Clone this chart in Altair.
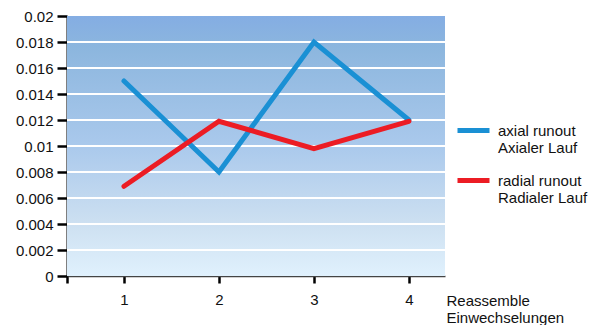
import altair as alt
import pandas as pd

x_vals = [1, 2, 3, 4]
axial = [0.015, 0.008, 0.018, 0.012]
radial = [0.0069, 0.0119, 0.0098, 0.0119]
series_names = ["axial runout|Axialer Lauf", "radial runout|Radialer Lauf"]
series_colors = ["#1a90d4", "#ec1c24"]
grid_vals = [0.002, 0.004, 0.006, 0.008, 0.01, 0.012, 0.014, 0.016, 0.018]
y_ticks = [0, 0.002, 0.004, 0.006, 0.008, 0.01, 0.012, 0.014, 0.016, 0.018, 0.02]
x_ticks = [0.4, 1, 2, 3, 4]

W, H = 378, 260
FONT = "Liberation Sans"
FS = 15

rows = []
for xv, a, r in zip(x_vals, axial, radial):
    rows.append({"x": xv, "value": a, "series": series_names[0]})
    rows.append({"x": xv, "value": r, "series": series_names[1]})
df = pd.DataFrame(rows)

xscale = alt.Scale(domain=[0.4, 4.38], nice=False, zero=False)
yscale = alt.Scale(domain=[0, 0.02], nice=False)

X = alt.X("x:Q", scale=xscale, axis=alt.Axis(
    values=x_ticks, labelExpr="datum.value < 0.5 ? '' : datum.label",
    title=["Reassemble", "Einwechselungen"], titleX=379, titleY=17,
    titleAlign="left", titleBaseline="top", titleAnchor="start",
    titleFontWeight="normal", titleFontSize=FS, titleFont=FONT, titleColor="#111",
    titleLineHeight=17,
    domainColor="#444", domainWidth=1.5, tickColor="#000", tickWidth=2.5, tickSize=7,
    labelPadding=9, labelFontSize=FS, labelFont=FONT, labelColor="#111", grid=False))
Y = alt.Y("value:Q", scale=yscale, axis=alt.Axis(
    values=y_ticks, format=".3~f", title=None,
    domainColor="#000", domainWidth=2, tickColor="#000", tickWidth=2.5, tickSize=10,
    labelPadding=4, labelFontSize=FS, labelFont=FONT, labelColor="#111", grid=False))

bg = alt.Chart(pd.DataFrame({"a": [0]})).mark_rect(
    fill=alt.Gradient(gradient="linear", x1=0, y1=0, x2=0, y2=1, stops=[
        alt.GradientStop(offset=0, color="#84ade3"),
        alt.GradientStop(offset=0.12, color="#8cb6de"),
        alt.GradientStop(offset=0.5, color="#aac9ec"),
        alt.GradientStop(offset=0.8, color="#cde0f1"),
        alt.GradientStop(offset=1, color="#e0f1fd"),
    ])
).encode(x=alt.value(0), x2=alt.value(W), y=alt.value(0), y2=alt.value(H))

grid = alt.Chart(pd.DataFrame({"value": grid_vals})).mark_rule(
    color="white", strokeWidth=2).encode(y=Y)

lines = alt.Chart(df).mark_line(strokeWidth=5, strokeCap="round").encode(
    x=X, y=Y,
    color=alt.Color("series:N", scale=alt.Scale(domain=series_names, range=series_colors),
                    legend=alt.Legend(
                        title=None, orient="none", legendX=388, legendY=96,
                        symbolType="stroke", symbolSize=1024, symbolStrokeWidth=5,
                        labelExpr="split(datum.label, '|')",
                        labelFontSize=FS, labelFont=FONT, labelColor="#111",
                        labelBaseline="middle", labelOffset=6, rowPadding=6,
                        labelLimit=300)))

chart = alt.layer(bg, grid, lines).properties(
    width=W, height=H,
    autosize=alt.AutoSizeParams(type="none"),
    padding={"left": 59, "top": 8, "right": 144, "bottom": 49},
).configure_view(stroke=None)

chart.save("out.html", embed_options={"renderer": "svg", "actions": False})
